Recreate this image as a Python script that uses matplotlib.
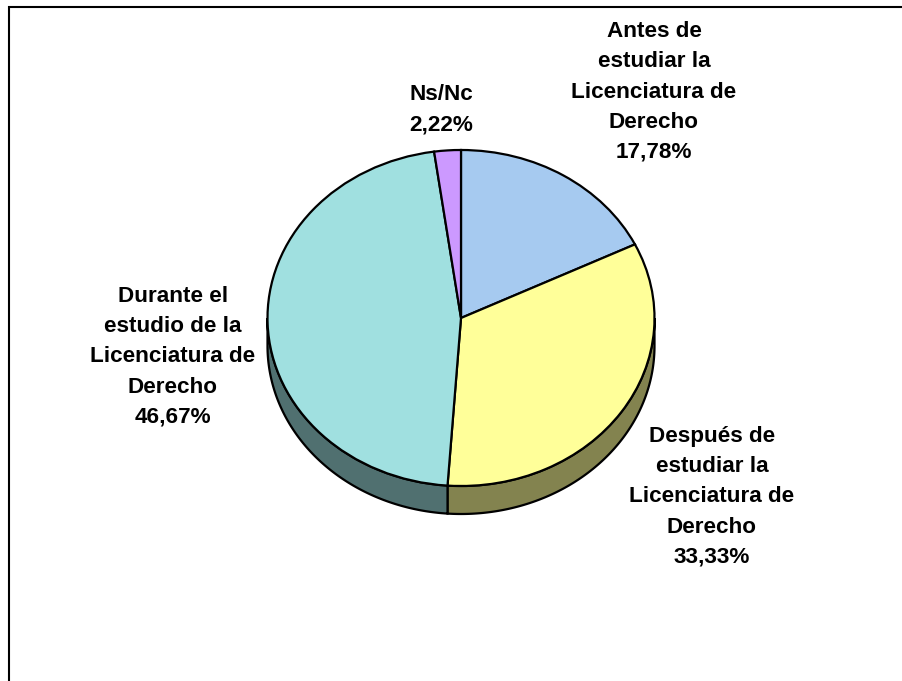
import numpy as np
import matplotlib
matplotlib.use("Agg")
import matplotlib.pyplot as plt

labels = ["Antes de\nestudiar la\nLicenciatura de\nDerecho",
          "Después de\nestudiar la\nLicenciatura de\nDerecho",
          "Durante el\nestudio de la\nLicenciatura de\nDerecho",
          "Ns/Nc"]
values = [17.78, 33.33, 46.67, 2.22]
colors = ["#A6CAF0", "#FFFF99", "#A0E0E0", "#CC99FF"]
dark_colors = ["#535065", "#83834F", "#507070", "#665080"]
# label centres in pixels
label_x = [654, 712, 173, 441]
label_y = [92, 497, 357, 110]

W, H = 903, 681
fig = plt.figure(figsize=(W / 100, H / 100), dpi=100, facecolor="white")

# outer frame, only top and left show
bg = fig.add_axes([0, 0, 1, 1])
bg.set_xlim(0, W)
bg.set_ylim(H, 0)
bg.axis("off")
bg.plot([9, 9, W], [H, 6.5, 6.5], color="black", lw=1.5, solid_joinstyle="miter")

# pie axes: one x unit = 193.5 px, one y unit = 168 px
left, right, top, bottom = 267.5, 654.5, 150, 486
depth = 28 / 168
ax = fig.add_axes([left / W, (H - bottom - 28) / H, (right - left) / W, (bottom + 28 - top) / H])

# side wall from the slice angles
edges = 90 - np.cumsum([0] + values) / sum(values) * 360
for i in range(len(values)):
    a1, a2 = edges[i], edges[i + 1]
    a1, a2 = min(a1, 0), max(a2, -180)
    if a1 <= a2:
        continue
    t = np.radians(np.linspace(a1, a2, 200))
    x = np.cos(t)
    y = np.sin(t)
    ax.fill(np.r_[x, x[::-1]], np.r_[y, (y - depth)[::-1]],
            facecolor=dark_colors[i], edgecolor="black", lw=1.6, zorder=1, clip_on=False)

ax.pie(values, colors=colors, startangle=90, counterclock=False,
       wedgeprops=dict(edgecolor="black", linewidth=1.6, zorder=2))
ax.set_aspect("auto")
ax.set_xlim(-1, 1)
ax.set_ylim(-1 - depth, 1)
ax.axis("off")

for i in range(len(values)):
    txt = labels[i] + "\n" + ("%.2f%%" % values[i]).replace(".", ",")
    bg.text(label_x[i], label_y[i], txt, ha="center", va="center", multialignment="center",
            family="Liberation Sans", weight="bold", fontsize=16.2, linespacing=1.57, color="black")

fig.savefig("out.png", dpi=100)
